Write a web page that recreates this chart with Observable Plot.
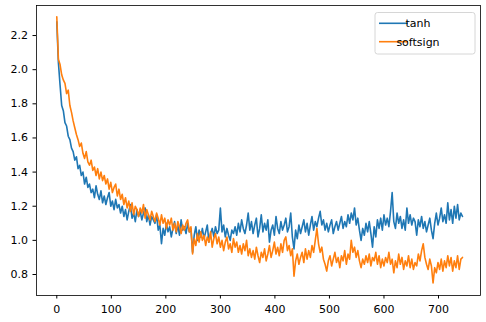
<!DOCTYPE html>
<html><head><meta charset="utf-8">
<script src="https://cdn.jsdelivr.net/npm/d3@7"></script>
<script src="https://cdn.jsdelivr.net/npm/@observablehq/plot@0.6"></script>
<style>body{margin:0;background:#fff} svg{display:block}</style>
</head><body><div id="chart"></div>
<script>
const seriesNames = ["tanh", "softsign"];
const seriesColors = ["#1f77b4", "#ff7f0e"];
const stepSize = 3;
const tanh = [
2.28,2.04,1.91,1.79,1.76,1.69,1.67,1.61,1.59,1.54,
1.52,1.47,1.49,1.42,1.44,1.38,1.40,1.33,1.37,1.31,
1.33,1.28,1.30,1.25,1.32,1.27,1.24,1.29,1.22,1.26,
1.21,1.25,1.28,1.20,1.23,1.18,1.24,1.19,1.21,1.16,
1.20,1.14,1.18,1.12,1.17,1.21,1.13,1.16,1.11,1.18,
1.14,1.17,1.12,1.16,1.19,1.11,1.15,1.09,1.14,1.12,
1.10,1.15,1.06,1.09,0.98,1.07,1.03,1.10,1.05,1.08,
1.02,1.07,1.11,1.04,1.09,1.03,1.12,1.06,1.08,1.04,
1.10,1.05,1.07,0.93,1.03,1.08,1.00,1.06,1.02,1.07,
1.01,1.05,1.09,0.99,1.04,1.07,1.02,1.08,1.04,1.06,
1.19,1.05,1.09,1.02,1.07,1.03,1.00,1.06,1.04,1.08,
1.03,1.10,1.05,1.12,1.07,1.04,1.09,1.16,1.06,1.11,
1.04,1.09,1.13,1.02,1.07,1.15,1.05,1.10,1.06,1.12,
0.99,1.06,1.09,1.03,1.14,1.07,1.04,1.11,1.06,1.09,
1.13,1.05,1.08,1.16,1.02,0.95,1.06,1.01,1.09,1.04,
1.08,1.12,1.05,1.10,1.03,1.09,1.14,1.06,1.11,1.08,
1.13,1.17,1.09,1.12,1.06,1.10,1.05,1.09,1.12,1.04,
1.08,1.11,1.06,1.10,1.14,1.07,1.11,1.08,1.15,1.10,
1.16,1.12,1.19,1.09,1.13,1.06,1.00,1.07,1.03,1.10,
1.05,1.11,1.04,0.96,1.08,1.02,1.12,1.07,1.13,1.06,
1.15,1.09,1.13,1.08,1.17,1.28,1.11,1.07,1.16,1.10,
1.14,1.07,1.12,1.06,1.19,1.10,1.15,1.09,1.13,1.11,
1.03,1.12,1.08,1.14,1.07,1.11,1.05,1.09,1.13,1.06,
1.01,1.10,1.16,1.09,1.13,1.19,1.11,1.15,1.10,1.22,
1.12,1.18,1.10,1.20,1.13,1.21,1.12,1.16,1.14
];
const softsign = [
2.31,2.06,2.03,1.97,1.94,1.92,1.86,1.88,1.79,1.75,
1.70,1.66,1.62,1.59,1.55,1.57,1.51,1.48,1.52,1.46,
1.44,1.47,1.41,1.43,1.38,1.42,1.36,1.40,1.35,1.38,
1.33,1.36,1.30,1.34,1.28,1.31,1.33,1.26,1.30,1.24,
1.27,1.21,1.25,1.19,1.23,1.17,1.22,1.15,1.20,1.18,
1.14,1.19,1.16,1.21,1.13,1.18,1.15,1.12,1.17,1.14,
1.11,1.16,1.13,1.09,1.15,1.10,1.13,1.07,1.12,1.09,
1.13,1.06,1.10,1.05,1.11,1.08,1.04,1.09,1.06,1.10,
1.12,1.05,1.08,0.92,1.01,0.97,1.04,0.99,1.05,1.00,
1.03,0.97,1.02,0.99,1.05,0.96,1.01,1.04,0.98,1.02,
0.96,1.00,0.94,0.99,1.02,0.95,0.98,0.93,1.01,0.96,
0.99,0.93,0.97,0.92,0.98,0.94,1.00,0.91,0.95,0.90,
0.94,0.89,0.96,0.91,0.87,0.93,0.90,0.95,0.88,0.92,
0.97,0.90,0.94,0.99,0.92,0.96,0.91,0.98,0.93,1.00,
1.02,0.94,0.97,0.91,0.95,0.79,0.88,0.92,0.86,0.90,
0.93,0.87,0.95,0.89,0.94,0.90,0.97,0.93,1.00,1.07,
0.98,0.93,0.96,0.89,0.86,0.82,0.88,0.91,0.85,0.89,
0.93,0.87,0.90,0.84,0.91,0.88,0.94,0.86,0.92,0.89,
1.00,0.93,0.96,0.90,0.94,0.88,0.84,0.89,0.86,0.91,
0.87,0.92,0.85,0.90,0.88,0.93,0.86,0.91,0.84,0.89,
0.85,0.90,0.87,0.93,0.86,0.89,0.81,0.88,0.84,0.92,
0.86,0.90,0.83,0.88,0.85,0.91,0.84,0.89,0.83,0.87,
0.85,0.92,0.88,0.94,0.98,0.90,0.86,0.83,0.89,0.85,
0.75,0.84,0.81,0.87,0.83,0.89,0.82,0.88,0.84,0.91,
0.85,0.90,0.82,0.88,0.84,0.91,0.83,0.89,0.90
];
const xTicks = [0, 100, 200, 300, 400, 500, 600, 700];
const yTicks = [0.8, 1.0, 1.2, 1.4, 1.6, 1.8, 2.0, 2.2];

const valuesBySeries = [tanh, softsign];
const rows = [];
seriesNames.forEach((name, k) => {
  valuesBySeries[k].forEach((v, i) => rows.push({series: name, step: i * stepSize, loss: v}));
});

const chart = Plot.plot({
  width: 486, height: 322,
  marginLeft: 36, marginRight: 6, marginTop: 5, marginBottom: 27,
  style: {fontFamily: "DejaVu Sans", fontSize: "11px", background: "#fff", color: "#000"},
  x: {domain: [-37.2, 777]},
  y: {domain: [0.677, 2.376]},
  color: {domain: seriesNames, range: seriesColors},
  marks: [
    Plot.lineY(rows, {x: "step", y: "loss", stroke: "series", strokeWidth: 1.6}),
    Plot.frame({stroke: "#000", strokeWidth: 0.8}),
    Plot.axisX({ticks: xTicks, tickSize: 3.5, tickPadding: 6.5, label: null, tickFormat: d => String(d)}),
    Plot.axisY({ticks: yTicks, tickSize: 3.5, tickPadding: 5, label: null, tickFormat: d => d.toFixed(1)})
  ]
});
document.getElementById("chart").appendChild(chart);

// legend (upper right, inside axes)
const svg = d3.select(chart);
const lg = svg.append("g").attr("font-family", "DejaVu Sans").attr("font-size", "11px");
lg.append("rect").attr("x", 375).attr("y", 12.5).attr("width", 100).attr("height", 41.5)
  .attr("rx", 2.5).attr("fill", "#fff").attr("fill-opacity", 0.8).attr("stroke", "#cccccc").attr("stroke-width", 0.8);
seriesNames.forEach((name, k) => {
  const yy = 23.3 + k * 18.4;
  lg.append("line").attr("x1", 379).attr("x2", 408).attr("y1", yy).attr("y2", yy)
    .attr("stroke", seriesColors[k]).attr("stroke-width", 1.6);
  lg.append("text").attr("x", 418).attr("y", yy).attr("dy", "0.35em").attr("fill", "#000").text(name);
});
</script>
</body></html>
